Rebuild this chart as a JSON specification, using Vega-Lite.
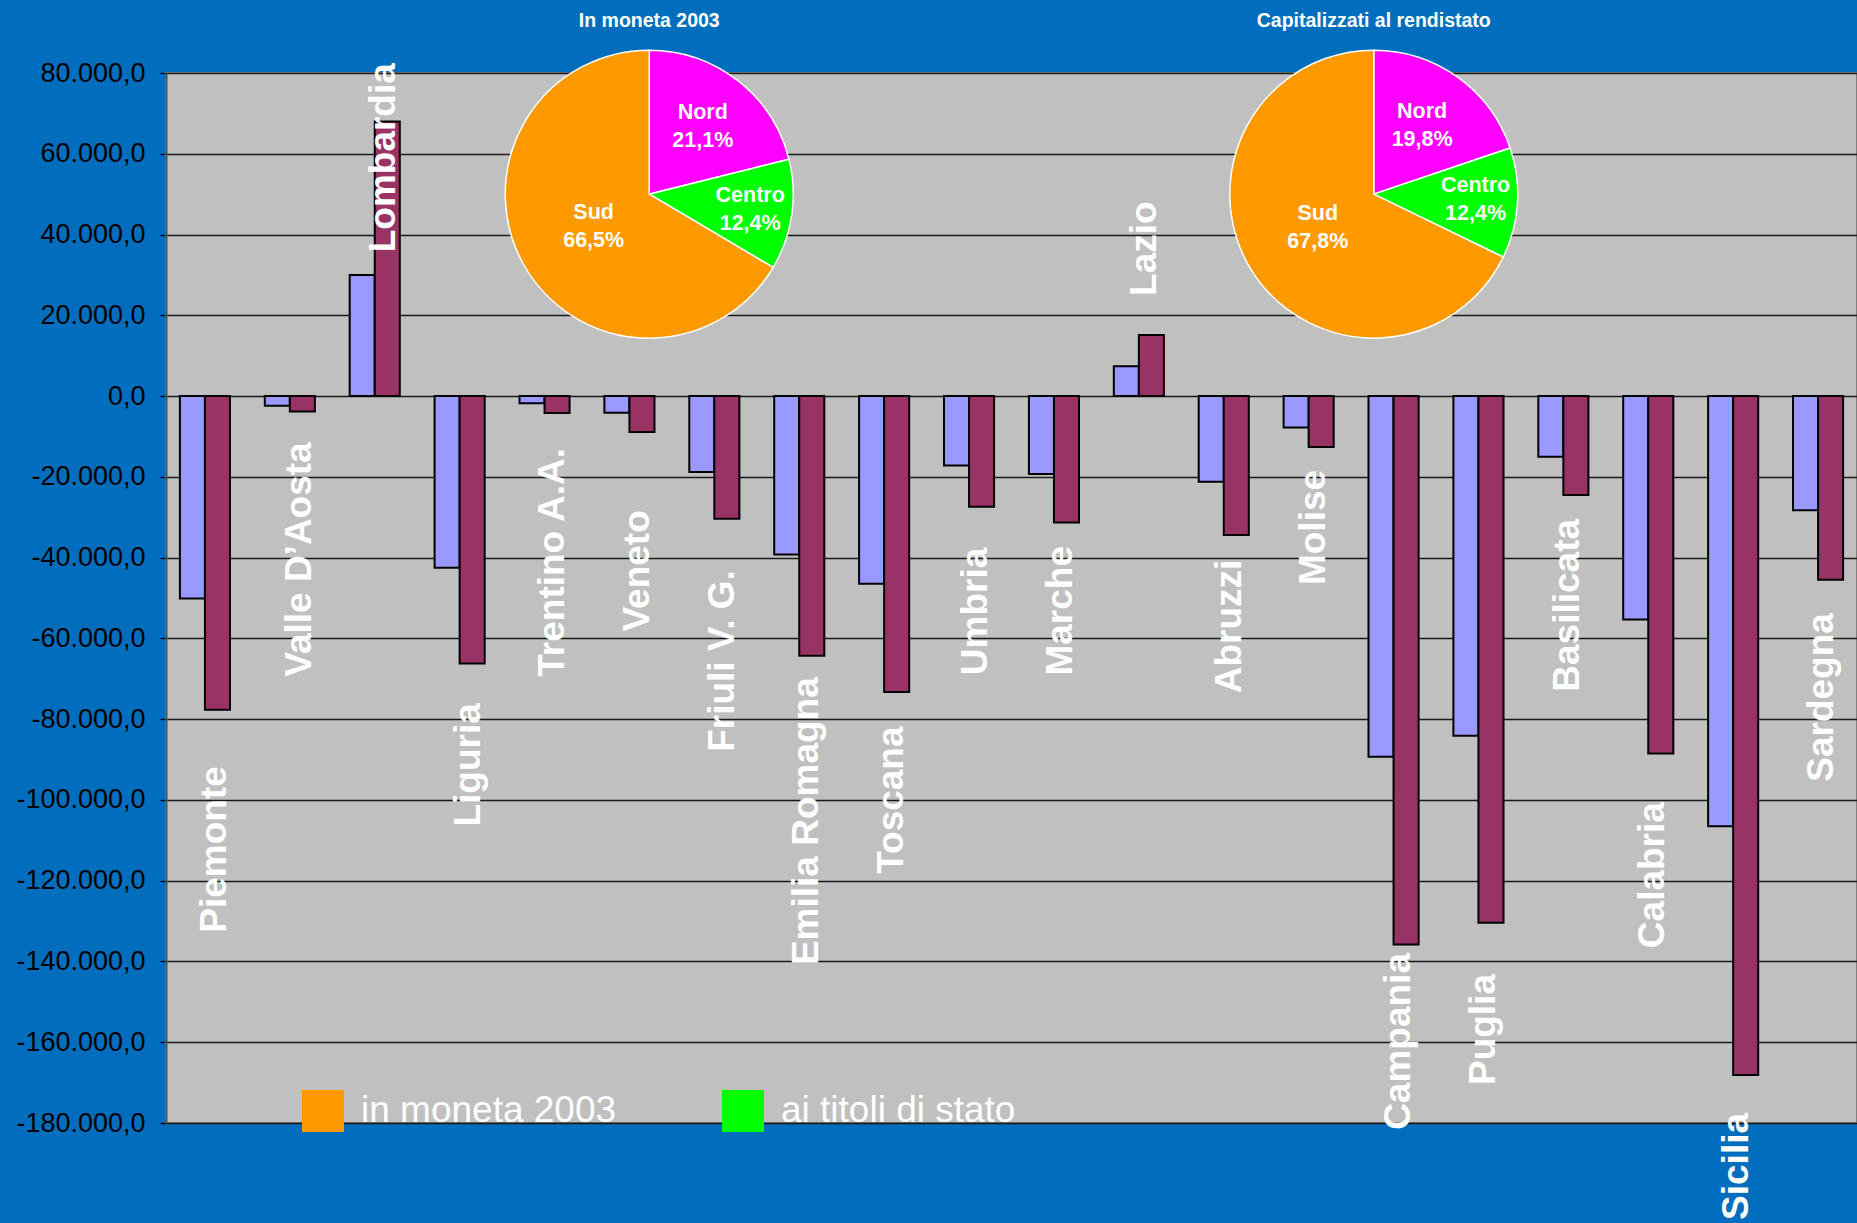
{
  "$schema": "https://vega.github.io/schema/vega-lite/v6.json",
  "width": 1691,
  "height": 1050,
  "autosize": {"type": "none"},
  "padding": {"left": 166, "top": 73, "right": 0, "bottom": 100},
  "background": "#006EBC",
  "view": {"fill": "#C0C0C0", "stroke": "#808080", "strokeWidth": 2},
  "config": {
    "font": "Liberation Sans",
    "locale": {"number": {"decimal": ",", "thousands": ".", "grouping": [3], "currency": ["€", ""], "minus": "-"}},
    "axisY": {
      "labelFontSize": 27, "labelColor": "#000000", "labelFont": "Liberation Sans",
      "tickColor": "#000000", "tickSize": 6, "tickWidth": 1.3, "labelPadding": 15,
      "grid": true, "gridColor": "#1a1a1a", "gridWidth": 1.3, "gridOpacity": 1,
      "domainColor": "#505050", "domainWidth": 2
    }
  },
  "datasets": {
    "barre": [
      {"regione": "Piemonte", "serie": "In moneta 2003", "valore": -50100},
      {"regione": "Piemonte", "serie": "Capitalizzati al rendistato", "valore": -77700},
      {"regione": "Valle D’Aosta", "serie": "In moneta 2003", "valore": -2400},
      {"regione": "Valle D’Aosta", "serie": "Capitalizzati al rendistato", "valore": -3800},
      {"regione": "Lombardia", "serie": "In moneta 2003", "valore": 30000},
      {"regione": "Lombardia", "serie": "Capitalizzati al rendistato", "valore": 68000},
      {"regione": "Liguria", "serie": "In moneta 2003", "valore": -42500},
      {"regione": "Liguria", "serie": "Capitalizzati al rendistato", "valore": -66200},
      {"regione": "Trentino A.A.", "serie": "In moneta 2003", "valore": -1800},
      {"regione": "Trentino A.A.", "serie": "Capitalizzati al rendistato", "valore": -4200},
      {"regione": "Veneto", "serie": "In moneta 2003", "valore": -4100},
      {"regione": "Veneto", "serie": "Capitalizzati al rendistato", "valore": -8900},
      {"regione": "Friuli V. G.", "serie": "In moneta 2003", "valore": -18800},
      {"regione": "Friuli V. G.", "serie": "Capitalizzati al rendistato", "valore": -30400},
      {"regione": "Emilia Romagna", "serie": "In moneta 2003", "valore": -39200},
      {"regione": "Emilia Romagna", "serie": "Capitalizzati al rendistato", "valore": -64300},
      {"regione": "Toscana", "serie": "In moneta 2003", "valore": -46500},
      {"regione": "Toscana", "serie": "Capitalizzati al rendistato", "valore": -73300},
      {"regione": "Umbria", "serie": "In moneta 2003", "valore": -17200},
      {"regione": "Umbria", "serie": "Capitalizzati al rendistato", "valore": -27400},
      {"regione": "Marche", "serie": "In moneta 2003", "valore": -19300},
      {"regione": "Marche", "serie": "Capitalizzati al rendistato", "valore": -31300},
      {"regione": "Lazio", "serie": "In moneta 2003", "valore": 7400},
      {"regione": "Lazio", "serie": "Capitalizzati al rendistato", "valore": 15100},
      {"regione": "Abruzzi", "serie": "In moneta 2003", "valore": -21200},
      {"regione": "Abruzzi", "serie": "Capitalizzati al rendistato", "valore": -34400},
      {"regione": "Molise", "serie": "In moneta 2003", "valore": -7800},
      {"regione": "Molise", "serie": "Capitalizzati al rendistato", "valore": -12600},
      {"regione": "Campania", "serie": "In moneta 2003", "valore": -89300},
      {"regione": "Campania", "serie": "Capitalizzati al rendistato", "valore": -135800},
      {"regione": "Puglia", "serie": "In moneta 2003", "valore": -84100},
      {"regione": "Puglia", "serie": "Capitalizzati al rendistato", "valore": -130400},
      {"regione": "Basilicata", "serie": "In moneta 2003", "valore": -15000},
      {"regione": "Basilicata", "serie": "Capitalizzati al rendistato", "valore": -24500},
      {"regione": "Calabria", "serie": "In moneta 2003", "valore": -55300},
      {"regione": "Calabria", "serie": "Capitalizzati al rendistato", "valore": -88500},
      {"regione": "Sicilia", "serie": "In moneta 2003", "valore": -106500},
      {"regione": "Sicilia", "serie": "Capitalizzati al rendistato", "valore": -168100},
      {"regione": "Sardegna", "serie": "In moneta 2003", "valore": -28300},
      {"regione": "Sardegna", "serie": "Capitalizzati al rendistato", "valore": -45500}
    ],
    "etichette": [
      {"regione": "Piemonte", "posizione": -132900},
      {"regione": "Valle D’Aosta", "posizione": -69500},
      {"regione": "Lombardia", "posizione": 35600},
      {"regione": "Liguria", "posizione": -106600},
      {"regione": "Trentino A.A.", "posizione": -69500},
      {"regione": "Veneto", "posizione": -58300},
      {"regione": "Friuli V. G.", "posizione": -88100},
      {"regione": "Emilia Romagna", "posizione": -140900},
      {"regione": "Toscana", "posizione": -118300},
      {"regione": "Umbria", "posizione": -69100},
      {"regione": "Marche", "posizione": -69200},
      {"regione": "Lazio", "posizione": 24800},
      {"regione": "Abruzzi", "posizione": -73600},
      {"regione": "Molise", "posizione": -46800},
      {"regione": "Campania", "posizione": -181700},
      {"regione": "Puglia", "posizione": -170600},
      {"regione": "Basilicata", "posizione": -73200},
      {"regione": "Calabria", "posizione": -136700},
      {"regione": "Sicilia", "posizione": -204000},
      {"regione": "Sardegna", "posizione": -95500}
    ],
    "torte": [
      {"grafico": "In moneta 2003", "zona": "Nord", "quota": 0.211, "ordine": 1},
      {"grafico": "In moneta 2003", "zona": "Centro", "quota": 0.124, "ordine": 2},
      {"grafico": "In moneta 2003", "zona": "Sud", "quota": 0.665, "ordine": 3},
      {"grafico": "Capitalizzati al rendistato", "zona": "Nord", "quota": 0.198, "ordine": 1},
      {"grafico": "Capitalizzati al rendistato", "zona": "Centro", "quota": 0.124, "ordine": 2},
      {"grafico": "Capitalizzati al rendistato", "zona": "Sud", "quota": 0.678, "ordine": 3}
    ],
    "titoli": [
      {"grafico": "In moneta 2003"},
      {"grafico": "Capitalizzati al rendistato"}
    ],
    "legenda": [
      {"voce": "in moneta 2003"},
      {"voce": "ai titoli di stato"}
    ]
  },
  "layer": [
    {
      "data": {"name": "barre"},
      "mark": {"type": "bar", "stroke": "#000000", "strokeWidth": 2},
      "encoding": {
        "x": {
          "field": "regione", "type": "nominal",
          "scale": {
            "domain": ["Piemonte", "Valle D’Aosta", "Lombardia", "Liguria", "Trentino A.A.", "Veneto", "Friuli V. G.", "Emilia Romagna", "Toscana", "Umbria", "Marche", "Lazio", "Abruzzi", "Molise", "Campania", "Puglia", "Basilicata", "Calabria", "Sicilia", "Sardegna"],
            "paddingInner": 0.41, "paddingOuter": 0.1636
          },
          "axis": null
        },
        "xOffset": {"field": "serie", "type": "nominal", "scale": {"domain": ["In moneta 2003", "Capitalizzati al rendistato"]}},
        "y": {
          "field": "valore", "type": "quantitative",
          "scale": {"domain": [-180000, 80000], "nice": false, "zero": false},
          "axis": {"title": null, "format": ",.1f", "values": [-180000, -160000, -140000, -120000, -100000, -80000, -60000, -40000, -20000, 0, 20000, 40000, 60000, 80000]}
        },
        "color": {
          "field": "serie", "type": "nominal",
          "scale": {"domain": ["In moneta 2003", "Capitalizzati al rendistato"], "range": ["#9999FF", "#993366"]},
          "legend": null
        }
      }
    },
    {
      "data": {"name": "etichette"},
      "mark": {"type": "text", "angle": 270, "align": "left", "baseline": "middle", "fontSize": 37, "fontWeight": "bold", "color": "#FFFFFF", "dy": 7},
      "encoding": {
        "x": {
          "field": "regione", "type": "nominal",
          "scale": {
            "domain": ["Piemonte", "Valle D’Aosta", "Lombardia", "Liguria", "Trentino A.A.", "Veneto", "Friuli V. G.", "Emilia Romagna", "Toscana", "Umbria", "Marche", "Lazio", "Abruzzi", "Molise", "Campania", "Puglia", "Basilicata", "Calabria", "Sicilia", "Sardegna"],
            "paddingInner": 0.41, "paddingOuter": 0.1636
          },
          "axis": null
        },
        "y": {
          "field": "posizione", "type": "quantitative",
          "scale": {"domain": [-180000, 80000], "nice": false, "zero": false},
          "axis": {"title": null, "format": ",.1f", "values": [-180000, -160000, -140000, -120000, -100000, -80000, -60000, -40000, -20000, 0, 20000, 40000, 60000, 80000]}
        },
        "text": {"field": "regione"}
      }
    },
    {
      "data": {"name": "torte"},
      "transform": [{"filter": "datum.grafico === 'In moneta 2003'"}],
      "encoding": {
        "x": {"field": "grafico", "type": "nominal", "scale": {"type": "point", "padding": 0.667, "domain": ["In moneta 2003", "Capitalizzati al rendistato"]}, "axis": null},
        "y": {
          "datum": 50000, "type": "quantitative",
          "scale": {"domain": [-180000, 80000], "nice": false, "zero": false},
          "axis": {"title": null, "format": ",.1f", "values": [-180000, -160000, -140000, -120000, -100000, -80000, -60000, -40000, -20000, 0, 20000, 40000, 60000, 80000]}
        },
        "theta": {"field": "quota", "type": "quantitative", "stack": true},
        "order": {"field": "ordine", "type": "quantitative"}
      },
      "layer": [
        {
          "mark": {"type": "arc", "outerRadius": 144, "stroke": "#FFFFFF", "strokeWidth": 1.5},
          "encoding": {"color": {"field": "zona", "type": "nominal", "scale": {"domain": ["Nord", "Centro", "Sud"], "range": ["#FF00FF", "#00FF00", "#FF9900"]}, "legend": null}}
        },
        {
          "mark": {"type": "text", "fontSize": 21.5, "fontWeight": "bold", "color": "#FFFFFF", "dy": -13},
          "encoding": {"radius": {"value": {"expr": "datum.zona === 'Sud' ? 64 : (datum.zona === 'Centro' ? 102 : 87)"}}, "text": {"field": "zona"}}
        },
        {
          "mark": {"type": "text", "fontSize": 21.5, "fontWeight": "bold", "color": "#FFFFFF", "dy": 15},
          "encoding": {"radius": {"value": {"expr": "datum.zona === 'Sud' ? 64 : (datum.zona === 'Centro' ? 102 : 87)"}}, "text": {"field": "quota", "type": "quantitative", "format": ".1%"}}
        }
      ]
    },
    {
      "data": {"name": "torte"},
      "transform": [{"filter": "datum.grafico === 'Capitalizzati al rendistato'"}],
      "encoding": {
        "x": {"field": "grafico", "type": "nominal", "scale": {"type": "point", "padding": 0.667, "domain": ["In moneta 2003", "Capitalizzati al rendistato"]}, "axis": null},
        "y": {
          "datum": 50000, "type": "quantitative",
          "scale": {"domain": [-180000, 80000], "nice": false, "zero": false},
          "axis": {"title": null, "format": ",.1f", "values": [-180000, -160000, -140000, -120000, -100000, -80000, -60000, -40000, -20000, 0, 20000, 40000, 60000, 80000]}
        },
        "theta": {"field": "quota", "type": "quantitative", "stack": true},
        "order": {"field": "ordine", "type": "quantitative"}
      },
      "layer": [
        {
          "mark": {"type": "arc", "outerRadius": 144, "stroke": "#FFFFFF", "strokeWidth": 1.5},
          "encoding": {"color": {"field": "zona", "type": "nominal", "scale": {"domain": ["Nord", "Centro", "Sud"], "range": ["#FF00FF", "#00FF00", "#FF9900"]}, "legend": null}}
        },
        {
          "mark": {"type": "text", "fontSize": 21.5, "fontWeight": "bold", "color": "#FFFFFF", "dy": -15},
          "encoding": {"radius": {"value": {"expr": "datum.zona === 'Sud' ? 66 : (datum.zona === 'Centro' ? 102 : 83)"}}, "text": {"field": "zona"}}
        },
        {
          "mark": {"type": "text", "fontSize": 21.5, "fontWeight": "bold", "color": "#FFFFFF", "dy": 13},
          "encoding": {"radius": {"value": {"expr": "datum.zona === 'Sud' ? 66 : (datum.zona === 'Centro' ? 102 : 83)"}}, "text": {"field": "quota", "type": "quantitative", "format": ".1%"}}
        }
      ]
    },
    {
      "data": {"name": "titoli"},
      "mark": {"type": "text", "fontSize": 19.5, "fontWeight": "bold", "color": "#FFFFFF", "baseline": "middle"},
      "encoding": {
        "x": {"field": "grafico", "type": "nominal", "scale": {"type": "point", "padding": 0.667, "domain": ["In moneta 2003", "Capitalizzati al rendistato"]}, "axis": null},
        "y": {
          "datum": 93000, "type": "quantitative",
          "scale": {"domain": [-180000, 80000], "nice": false, "zero": false},
          "axis": {"title": null, "format": ",.1f", "values": [-180000, -160000, -140000, -120000, -100000, -80000, -60000, -40000, -20000, 0, 20000, 40000, 60000, 80000]}
        },
        "text": {"field": "grafico"}
      }
    },
    {
      "data": {"name": "legenda"},
      "mark": {"type": "text", "text": ""},
      "encoding": {
        "fill": {
          "field": "voce", "type": "nominal",
          "scale": {"domain": ["in moneta 2003", "ai titoli di stato"], "range": ["#FF9900", "#00FF00"]},
          "legend": {
            "orient": "none", "legendX": 136, "legendY": 1017, "direction": "horizontal",
            "title": null, "symbolType": "square", "symbolSize": 1764, "symbolStrokeWidth": 0, "symbolOpacity": 1,
            "labelFontSize": 37, "labelColor": "#FFFFFF", "labelFont": "Liberation Sans",
            "labelOffset": 17, "columnPadding": 105, "labelLimit": 600, "padding": 0
          }
        }
      }
    }
  ],
  "resolve": {"scale": {"x": "independent", "color": "independent"}}
}
